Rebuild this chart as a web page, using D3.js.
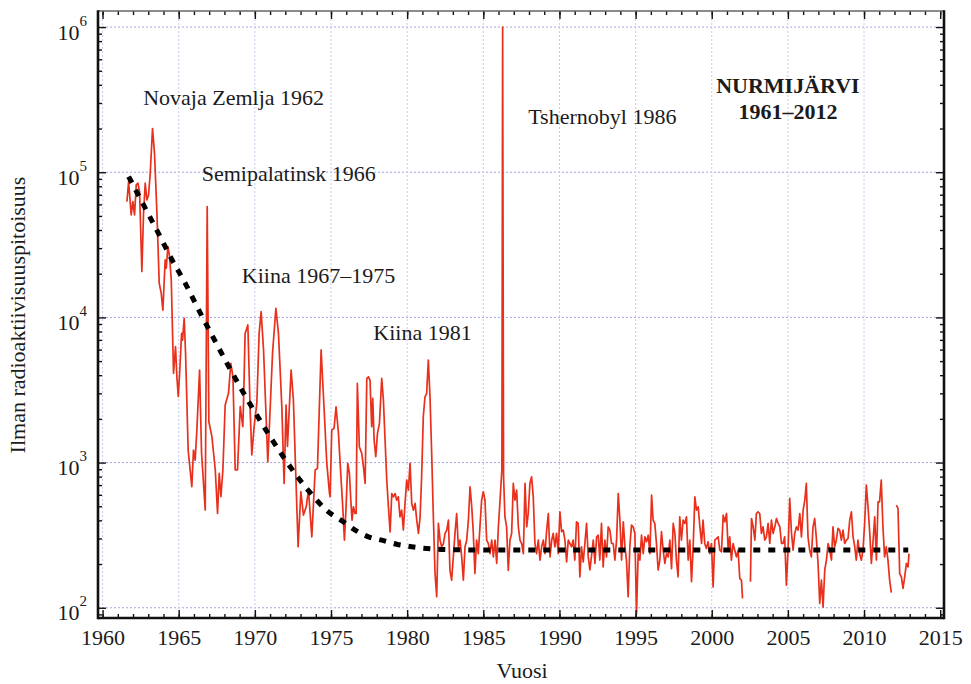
<!DOCTYPE html>
<html>
<head>
<meta charset="utf-8">
<script src="https://cdn.jsdelivr.net/npm/d3@7"></script>
<style>
  html, body { margin: 0; padding: 0; background: #fff; }
  svg { display: block; font-family: "Liberation Serif", "Times New Roman", serif; }
</style>
</head>
<body>
<svg id="chart" width="971" height="684"></svg>
<script>
// Monthly air radioactivity at Nurmijärvi, [decimal year, activity]
const fallout1961_1975 = [
  [1961.60, 62800], [1961.71, 86300], [1961.88, 50800], [1961.99, 62800], [1962.10, 50800],
  [1962.21, 81800], [1962.32, 84000], [1962.43, 73600], [1962.58, 20700], [1962.69, 52100],
  [1962.80, 84000], [1962.91, 64400], [1963.02, 69800], [1963.13, 98400], [1963.28, 200000],
  [1963.41, 135000], [1963.57, 52100], [1963.72, 17200], [1963.85, 14700], [1963.96, 11200],
  [1964.11, 24900], [1964.18, 21800], [1964.29, 30800], [1964.40, 26200], [1964.51, 18100],
  [1964.66, 4120], [1964.79, 6290], [1964.88, 3910], [1964.97, 2850], [1965.06, 4120],
  [1965.19, 7760], [1965.25, 6980], [1965.36, 9860], [1965.45, 5660], [1965.62, 1220],
  [1965.86, 682], [1965.97, 1220], [1966.08, 1040], [1966.19, 1670], [1966.37, 4340],
  [1966.50, 1160], [1966.74, 471], [1966.87, 58000], [1966.98, 1910], [1967.18, 1510],
  [1967.40, 889], [1967.55, 447], [1967.66, 844], [1967.77, 582], [1967.90, 889],
  [1968.05, 2490], [1968.27, 3000], [1968.42, 4830], [1968.56, 3910], [1968.71, 889],
  [1968.86, 889], [1969.04, 2430], [1969.21, 1770], [1969.26, 2700], [1969.36, 7760],
  [1969.54, 8870], [1969.69, 2300], [1969.80, 1130], [1969.95, 1770], [1970.13, 2560],
  [1970.28, 7760], [1970.41, 10960], [1970.57, 5970], [1970.72, 2300], [1970.85, 1010],
  [1971.00, 2300], [1971.16, 5660], [1971.38, 11560], [1971.55, 7760], [1971.77, 2430],
  [1971.92, 719], [1972.05, 2490], [1972.14, 1290], [1972.38, 4340], [1972.53, 2700],
  [1972.84, 263], [1973.02, 630], [1973.19, 435], [1973.37, 496], [1973.52, 647],
  [1973.74, 308], [1973.96, 889], [1974.11, 912], [1974.35, 5970], [1974.55, 2300],
  [1974.72, 1000], [1974.90, 614]
];

const fallout1975_1990 = [
  [1974.94, 581], [1975.05, 1675], [1975.20, 1720], [1975.33, 2425], [1975.49, 1590],
  [1975.60, 987], [1975.77, 496], [1975.88, 292], [1975.99, 496], [1976.10, 987],
  [1976.21, 841], [1976.30, 551], [1976.38, 401], [1976.47, 496], [1976.58, 446],
  [1976.65, 446], [1976.73, 3510], [1976.86, 1285], [1977.02, 1156], [1977.13, 935],
  [1977.24, 718], [1977.35, 3800], [1977.46, 3900], [1977.56, 3700], [1977.67, 1766],
  [1977.74, 2770], [1977.83, 1428], [1977.94, 1097], [1978.05, 1590], [1978.18, 1862],
  [1978.33, 3800], [1978.44, 2700], [1978.55, 1428], [1978.66, 757], [1978.77, 496],
  [1978.88, 333], [1978.99, 612], [1979.10, 581], [1979.21, 612], [1979.31, 551],
  [1979.42, 581], [1979.53, 423], [1979.64, 470], [1979.75, 343], [1979.86, 523],
  [1979.97, 757], [1980.08, 646], [1980.19, 987], [1980.30, 523], [1980.41, 470],
  [1980.52, 523], [1980.63, 401], [1980.74, 325], [1980.85, 423], [1980.95, 798],
  [1981.06, 2070], [1981.17, 2840], [1981.28, 2990], [1981.39, 5080], [1981.50, 2840],
  [1981.61, 1156], [1981.72, 423], [1981.83, 172], [1981.94, 119], [1982.05, 381],
  [1982.16, 292], [1982.27, 263], [1982.38, 277], [1982.49, 325], [1982.60, 343],
  [1982.71, 401], [1982.81, 181], [1982.92, 155], [1983.03, 224], [1983.14, 325],
  [1983.25, 446], [1983.36, 263], [1983.47, 292], [1983.58, 224], [1983.69, 155],
  [1983.80, 263], [1983.91, 292], [1984.02, 401], [1984.13, 680], [1984.24, 496],
  [1984.34, 333], [1984.45, 172], [1984.56, 292], [1984.67, 236], [1984.78, 361],
  [1984.89, 551], [1985.00, 630], [1985.11, 551], [1985.22, 292], [1985.33, 277],
  [1985.44, 236], [1985.55, 292], [1985.66, 224], [1985.77, 292], [1985.88, 202],
  [1985.99, 361], [1986.10, 551], [1986.22, 900], [1986.27, 1000000], [1986.33, 800],
  [1986.42, 423], [1986.53, 361], [1986.64, 181], [1986.75, 292], [1986.86, 325],
  [1986.97, 718], [1987.08, 551], [1987.19, 646], [1987.30, 361], [1987.41, 292],
  [1987.52, 277], [1987.63, 236], [1987.74, 718], [1987.85, 361], [1987.95, 446],
  [1988.06, 718], [1988.17, 798], [1988.28, 581], [1988.39, 277], [1988.50, 236],
  [1988.61, 292], [1988.72, 213], [1988.83, 263], [1988.94, 292], [1989.05, 236],
  [1989.16, 343], [1989.27, 446], [1989.38, 224], [1989.49, 292], [1989.59, 325],
  [1989.70, 263], [1989.81, 325], [1989.92, 236]
];

const fallout1990_2013 = [
  [1990.03, 458], [1990.14, 334], [1990.25, 343], [1990.36, 292], [1990.47, 207],
  [1990.58, 292], [1990.69, 277], [1990.80, 263], [1990.90, 292], [1991.01, 213],
  [1991.12, 391], [1991.23, 381], [1991.34, 163], [1991.45, 263], [1991.56, 207],
  [1991.67, 277], [1991.78, 381], [1991.89, 224], [1992.00, 182], [1992.11, 230],
  [1992.22, 292], [1992.33, 202], [1992.44, 308], [1992.55, 316], [1992.65, 213],
  [1992.76, 381], [1992.87, 191], [1992.98, 292], [1993.09, 224], [1993.20, 361],
  [1993.31, 343], [1993.42, 277], [1993.53, 277], [1993.64, 213], [1993.75, 292],
  [1993.86, 612], [1993.97, 401], [1994.08, 213], [1994.19, 391], [1994.30, 263],
  [1994.40, 213], [1994.51, 119], [1994.62, 263], [1994.73, 371], [1994.84, 361],
  [1994.95, 325], [1995.06, 91], [1995.17, 236], [1995.28, 213], [1995.39, 316],
  [1995.50, 236], [1995.61, 308], [1995.72, 285], [1995.83, 316], [1995.94, 236],
  [1996.05, 597], [1996.15, 401], [1996.26, 381], [1996.37, 277], [1996.48, 182],
  [1996.59, 213], [1996.70, 334], [1996.81, 249], [1996.92, 202], [1997.03, 236],
  [1997.14, 224], [1997.25, 292], [1997.36, 186], [1997.47, 381], [1997.58, 325],
  [1997.68, 213], [1997.79, 163], [1997.90, 423], [1998.01, 292], [1998.12, 401],
  [1998.23, 381], [1998.34, 423], [1998.45, 213], [1998.56, 292], [1998.67, 151],
  [1998.78, 263], [1998.89, 581], [1999.00, 470], [1999.11, 496], [1999.22, 361],
  [1999.33, 277], [1999.43, 401], [1999.54, 277], [1999.65, 256], [1999.76, 285],
  [1999.87, 236], [1999.98, 277], [2000.09, 139], [2000.20, 292], [2000.31, 300],
  [2000.42, 308], [2000.53, 249], [2000.64, 243], [2000.75, 434], [2000.86, 391],
  [2000.97, 446], [2001.08, 249], [2001.18, 308], [2001.29, 213], [2001.40, 277],
  [2001.51, 249], [2001.62, 224], [2001.73, 249], [2001.84, 159], [2001.95, 155],
  [2002.02, 116], [2002.30, null],
  [2002.54, 151], [2002.61, 412], [2002.72, 361], [2002.83, 292], [2002.93, 446],
  [2003.04, 458], [2003.15, 446], [2003.26, 325], [2003.37, 361], [2003.48, 292],
  [2003.59, 308], [2003.70, 381], [2003.81, 277], [2003.92, 401], [2004.03, 325],
  [2004.14, 361], [2004.25, 412], [2004.36, 381], [2004.47, 361], [2004.58, 277],
  [2004.68, 277], [2004.79, 308], [2004.90, 143], [2005.01, 249], [2005.12, 566],
  [2005.23, 334], [2005.34, 249], [2005.45, 325], [2005.56, 361], [2005.67, 343],
  [2005.78, 446], [2005.89, 308], [2006.00, 470], [2006.11, 551], [2006.21, 718],
  [2006.32, 308], [2006.43, 249], [2006.54, 224], [2006.65, 361], [2006.76, 412],
  [2006.87, 300], [2006.98, 202], [2007.09, 107], [2007.20, 155], [2007.31, 101],
  [2007.42, 182], [2007.53, 213], [2007.64, 277], [2007.75, 249], [2007.86, 213],
  [2007.96, 361], [2008.07, 263], [2008.18, 292], [2008.29, 352], [2008.40, 343],
  [2008.51, 292], [2008.62, 343], [2008.73, 277], [2008.84, 292], [2008.95, 300],
  [2009.06, 401], [2009.17, 458], [2009.28, 308], [2009.39, 263], [2009.49, 213],
  [2009.60, 292], [2009.71, 236], [2009.82, 213], [2009.93, 249], [2010.04, 381],
  [2010.15, 700], [2010.26, 496], [2010.37, 334], [2010.48, 202], [2010.59, 285],
  [2010.70, 423], [2010.81, 213], [2010.92, 537], [2011.02, 537], [2011.13, 757],
  [2011.24, 361], [2011.35, 224], [2011.46, 263], [2011.57, 213], [2011.68, 155],
  [2011.79, 127], [2011.95, null],
  [2012.12, 509], [2012.23, 483], [2012.34, 172], [2012.45, 163], [2012.56, 136],
  [2012.67, 163], [2012.78, 202], [2012.89, 191], [2012.95, 236]
];

// Fitted decay of the fallout level towards the background
const trend = [
  [1961.71, 93300], [1962.69, 59600], [1963.61, 39000], [1964.51, 25500], [1965.49, 16700],
  [1966.37, 10960], [1967.29, 7180], [1968.23, 4700], [1969.21, 3080], [1970.19, 2070],
  [1971.22, 1390], [1972.32, 935], [1973.52, 640], [1974.83, 458], [1975.81, 391],
  [1976.58, 343], [1977.46, 308], [1978.33, 292], [1979.31, 274], [1980.30, 263],
  [1981.28, 256], [1982.27, 252], [1985.00, 250], [1995.00, 250], [2005.00, 250],
  [2012.90, 250]
];

const yearLabels = [1960, 1965, 1970, 1975, 1980, 1985, 1990, 1995, 2000, 2005, 2010, 2015];
const decadeExponents = [2, 3, 4, 5, 6];

// Event labels, anchored at [year, activity] of their left baseline
const events = [
  { text: "Novaja Zemlja 1962", year: 1962.67, level: 290000 },
  { text: "Semipalatinsk 1966", year: 1966.51, level: 86500 },
  { text: "Kiina 1967\u20131975", year: 1969.14, level: 17300 },
  { text: "Kiina 1981", year: 1977.78, level: 7000 },
  { text: "Tshernobyl 1986", year: 1987.95, level: 215000 }
];
const stationTitle = ["NURMIJ\u00C4RVI", "1961\u20132012"];
const stationAnchor = { year: 2005.0, levels: [352000, 233000] };

const xTitle = "Vuosi";
const yTitle = "Ilman radioaktiivisuuspitoisuus";

// ---------------------------------------------------------------------------
const W = 971, H = 684;
const m = { top: 11, right: 27, bottom: 66, left: 98 };
const svg = d3.select("#chart");
svg.append("rect").attr("width", W).attr("height", H).attr("fill", "#fff");

const x = d3.scaleLinear().domain([1959.7, 2015.25]).range([m.left, W - m.right]);
const y = d3.scaleLog().domain([85, 1.29e6]).range([H - m.bottom, m.top]);
const decades = decadeExponents.map(e => Math.pow(10, e));
const minorValues = [];
for (let e = 1; e <= 6; e++) {
  for (let k = 2; k <= 9; k++) {
    const v = k * Math.pow(10, e);
    if (v >= y.domain()[0] && v <= y.domain()[1]) minorValues.push(v);
  }
}

const textColor = "#1b1b1b";

// Grid
const grid = svg.append("g");
grid.selectAll("line.h").data(decades).join("line")
  .attr("x1", m.left).attr("x2", W - m.right)
  .attr("y1", d => y(d)).attr("y2", d => y(d))
  .attr("stroke", "#a6a6e2").attr("stroke-width", 1).attr("stroke-dasharray", "2 2");
grid.selectAll("line.v").data(yearLabels.filter(d => d < 2015)).join("line")
  .attr("x1", d => x(d)).attr("x2", d => x(d))
  .attr("y1", m.top).attr("y2", H - m.bottom)
  .attr("stroke", "#c9c9ee").attr("stroke-width", 1).attr("stroke-dasharray", "2 2");

// Data
const plot = svg.append("g");
svg.append("clipPath").attr("id", "clip").append("rect")
  .attr("x", m.left).attr("y", m.top)
  .attr("width", W - m.left - m.right).attr("height", H - m.top - m.bottom);

const series = fallout1961_1975.concat(fallout1975_1990, fallout1990_2013);
const line = d3.line()
  .defined(d => d[1] != null)
  .x(d => x(d[0])).y(d => y(d[1]));

plot.append("path")
  .attr("clip-path", "url(#clip)")
  .attr("d", line(series))
  .attr("fill", "none")
  .attr("stroke", "#e8301c")
  .attr("stroke-width", 1.7)
  .attr("stroke-linejoin", "round");

plot.append("path")
  .attr("d", d3.line().curve(d3.curveMonotoneX).x(d => x(d[0])).y(d => y(d[1]))(trend))
  .attr("fill", "none")
  .attr("stroke", "#000")
  .attr("stroke-width", 5)
  .attr("stroke-dasharray", "7 8");

// Axes
function styleAxis(g) {
  g.select(".domain").remove();
  g.selectAll(".tick line").attr("stroke", "#111").attr("stroke-width", 1.4);
}
const years = d3.range(1960, 2016);

svg.append("g").attr("transform", `translate(0,${H - m.bottom})`)
  .call(d3.axisBottom(x).tickValues(years).tickSize(-4).tickFormat(""))
  .call(styleAxis);
svg.append("g").attr("transform", `translate(0,${H - m.bottom})`)
  .call(d3.axisBottom(x).tickValues(yearLabels).tickSizeInner(-8).tickSizeOuter(0)
        .tickPadding(11).tickFormat(d3.format("d")))
  .call(styleAxis)
  .call(g => g.selectAll("text").attr("font-size", 22).attr("fill", textColor)
        .attr("font-family", "Liberation Serif, serif"));

svg.append("g").attr("transform", `translate(0,${m.top})`)
  .call(d3.axisTop(x).tickValues(years).tickSize(-4).tickFormat(""))
  .call(styleAxis);
svg.append("g").attr("transform", `translate(0,${m.top})`)
  .call(d3.axisTop(x).tickValues(yearLabels).tickSize(-8).tickFormat(""))
  .call(styleAxis);

svg.append("g").attr("transform", `translate(${m.left},0)`)
  .call(d3.axisLeft(y).tickValues(minorValues).tickSize(-4).tickFormat(""))
  .call(styleAxis);
svg.append("g").attr("transform", `translate(${m.left},0)`)
  .call(d3.axisLeft(y).tickValues(decades).tickSize(-8).tickFormat(""))
  .call(styleAxis);
svg.append("g").attr("transform", `translate(${W - m.right},0)`)
  .call(d3.axisRight(y).tickValues(minorValues).tickSize(-4).tickFormat(""))
  .call(styleAxis);
svg.append("g").attr("transform", `translate(${W - m.right},0)`)
  .call(d3.axisRight(y).tickValues(decades).tickSize(-8).tickFormat(""))
  .call(styleAxis);

// Decade labels written as powers of ten
const yLab = svg.append("g").attr("fill", textColor);
decadeExponents.forEach(e => {
  const t = yLab.append("text")
    .attr("x", m.left - 11)
    .attr("y", y(Math.pow(10, e)) + 12.5)
    .attr("text-anchor", "end")
    .attr("font-size", 22);
  t.append("tspan").text("10");
  t.append("tspan").attr("font-size", 15).attr("dy", -14).text(e);
});

// Frame
const frame = svg.append("g");
frame.append("line").attr("x1", m.left).attr("x2", W - m.right).attr("y1", m.top).attr("y2", m.top)
  .attr("stroke", "#666").attr("stroke-width", 1.5);
frame.append("line").attr("x1", m.left).attr("x2", m.left).attr("y1", m.top - 0.7).attr("y2", H - m.bottom + 1.3)
  .attr("stroke", "#111").attr("stroke-width", 2.6);
frame.append("line").attr("x1", W - m.right).attr("x2", W - m.right).attr("y1", m.top - 0.7).attr("y2", H - m.bottom + 1.3)
  .attr("stroke", "#111").attr("stroke-width", 2.6);
frame.append("line").attr("x1", m.left).attr("x2", W - m.right).attr("y1", H - m.bottom).attr("y2", H - m.bottom)
  .attr("stroke", "#111").attr("stroke-width", 2.6);

// Titles
svg.append("text")
  .attr("x", (m.left + W - m.right) / 2 + 1).attr("y", 678)
  .attr("text-anchor", "middle").attr("font-size", 22).attr("fill", textColor)
  .text(xTitle);
svg.append("text")
  .attr("transform", "translate(25,315) rotate(-90)")
  .attr("text-anchor", "middle").attr("font-size", 22).attr("fill", textColor)
  .text(yTitle);

// Event labels
svg.append("g").selectAll("text").data(events).join("text")
  .attr("x", d => x(d.year)).attr("y", d => y(d.level))
  .attr("font-size", 22).attr("fill", textColor)
  .text(d => d.text);

svg.append("g").selectAll("text").data(stationTitle).join("text")
  .attr("x", x(stationAnchor.year))
  .attr("y", (d, i) => y(stationAnchor.levels[i]))
  .attr("text-anchor", "middle").attr("font-size", 22).attr("font-weight", "bold")
  .attr("fill", textColor)
  .text(d => d);
</script>
</body>
</html>
